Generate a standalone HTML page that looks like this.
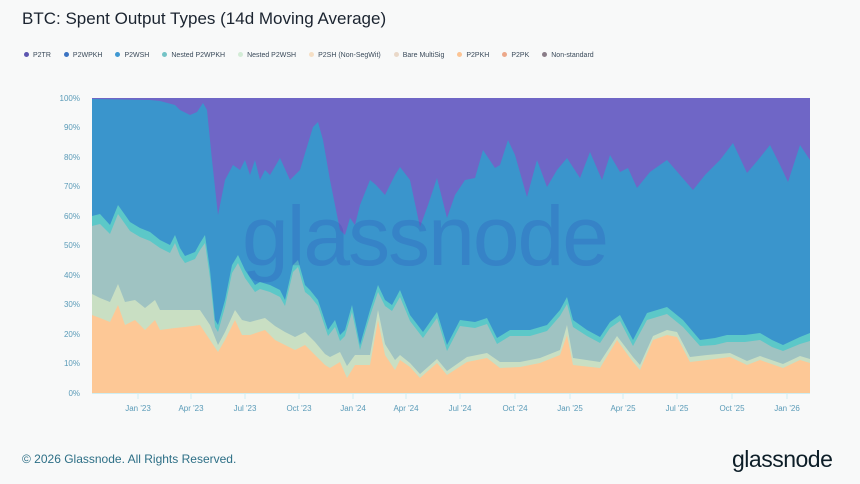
<!DOCTYPE html>
<html><head><meta charset="utf-8"><style>
body{margin:0;width:860px;height:484px;background:#f8f9f9;font-family:"Liberation Sans",sans-serif;overflow:hidden;position:relative}
.t{position:absolute;left:22px;top:9px;font-size:17px;color:#1b2430}
.lg{position:absolute;top:52px;left:24px;font-size:7px;color:#3a4a5a;white-space:nowrap}
.lg span{margin-right:13px}
.lg i{display:inline-block;width:5px;height:5px;border-radius:50%;margin-right:4px;vertical-align:0}
.ft{position:absolute;left:22px;top:452px;font-size:12px;color:#2d6f86}
.logo{position:absolute;left:732px;top:446px;font-size:23px;color:#0d1e28;letter-spacing:-0.5px}
</style></head><body>
<div class="t">BTC: Spent Output Types (14d Moving Average)</div>
<div class="lg">
<span><i style="background:#5d56b0"></i>P2TR</span><span><i style="background:#3b73c2"></i>P2WPKH</span><span><i style="background:#3f98d2"></i>P2WSH</span><span><i style="background:#74c3c6"></i>Nested P2WPKH</span><span><i style="background:#d3ecd6"></i>Nested P2WSH</span><span><i style="background:#f5dfc5"></i>P2SH (Non-SegWit)</span><span><i style="background:#e9d8c8"></i>Bare MultiSig</span><span><i style="background:#fcc494"></i>P2PKH</span><span><i style="background:#eca88a"></i>P2PK</span><span><i style="background:#8a7d88"></i>Non-standard</span>
</div>
<svg width="860" height="484" style="position:absolute;left:0;top:0">
<g font-size="8" fill="#5a9bb8" text-anchor="end" font-family="Liberation Sans">
<text x="80" y="101">100%</text><text x="80" y="130">90%</text><text x="80" y="160">80%</text><text x="80" y="189">70%</text><text x="80" y="219">60%</text><text x="80" y="248">50%</text><text x="80" y="278">40%</text><text x="80" y="307">30%</text><text x="80" y="337">20%</text><text x="80" y="366">10%</text><text x="80" y="396">0%</text>
</g>
<rect x="92" y="98" width="718" height="295" fill="#6f66c6"/>
<polygon fill="#3a95cc" points="92,99 150,100 160,101 175,105 180,110 190,115 197,112 203,103 207,110 212,160 218,215 225,180 233,165 240,170 245,160 250,175 255,160 260,180 265,170 270,175 280,158 290,180 300,170 306,150 313,127 318,122 323,140 330,180 340,230 345,235 350,218 355,225 360,205 370,180 376,185 385,195 395,175 400,167 410,180 420,227 428,205 437,178 447,218 455,195 465,180 475,178 483,150 495,168 500,165 508,140 515,155 527,197 537,160 547,187 557,170 567,158 580,178 590,152 602,180 610,155 620,172 628,168 637,188 650,172 667,160 680,175 693,190 705,175 720,160 733,143 747,173 758,160 770,145 780,165 788,182 800,145 810,160 810,393 92,393"/>
<polygon fill="#5cc8c8" points="92,216 100,214 110,225 118,205 130,222 140,228 150,232 160,240 170,245 175,235 180,248 185,256 195,252 200,243 205,235 210,270 215,320 218,325 225,300 232,265 238,255 245,270 255,285 260,282 270,285 280,290 285,300 293,265 298,260 305,285 310,290 318,300 328,330 335,320 340,335 345,330 352,305 360,345 370,310 378,285 385,300 392,305 400,290 410,315 423,332 437,312 447,345 460,320 475,322 487,318 497,338 510,330 530,330 547,325 560,310 567,297 573,320 587,330 600,337 610,322 620,315 633,340 647,313 667,307 683,320 700,340 715,338 727,335 745,335 760,333 772,340 783,345 800,337 810,333 810,393 92,393"/>
<polygon fill="#9fc3c2" points="92,226 100,224 110,234 118,214 130,231 140,237 150,241 160,248 170,253 175,243 180,256 185,263 195,259 200,250 205,243 210,278 215,327 218,332 225,307 232,273 238,263 245,278 255,292 260,289 270,292 280,297 285,306 293,272 298,267 305,292 310,296 318,306 328,336 335,327 340,341 345,336 352,312 360,350 370,316 378,292 385,306 392,311 400,297 410,321 423,338 437,318 447,351 460,326 475,328 487,324 497,344 510,336 530,336 547,331 560,316 567,304 573,327 587,336 600,343 610,328 620,321 633,346 647,320 667,314 683,327 700,346 715,345 727,342 745,342 760,340 772,347 783,351 800,344 810,341 810,393 92,393"/>
<polygon fill="#c9dfc3" points="92,294 100,298 110,302 118,284 125,302 135,300 145,308 155,300 160,310 175,310 185,310 200,310 210,325 218,345 225,332 235,310 242,320 250,322 265,318 275,326 285,332 295,337 305,332 315,342 325,354 330,357 340,352 347,366 355,355 370,355 378,310 385,344 395,360 400,355 410,363 420,374 437,359 447,371 467,357 487,353 500,362 520,362 540,358 560,350 567,325 573,358 600,362 617,336 633,357 640,365 653,336 667,330 677,332 690,357 707,355 730,353 747,361 760,356 783,364 800,356 810,359 810,393 92,393"/>
<polygon fill="#fdc896" points="92,315 100,318 110,322 118,305 125,325 135,320 145,330 155,320 160,330 175,328 185,327 200,325 210,340 218,352 225,340 235,320 242,335 250,335 265,330 275,340 285,345 295,350 305,345 315,355 325,365 330,368 340,362 347,378 355,365 370,365 378,320 385,355 395,370 400,360 410,367 420,378 437,363 447,375 467,362 487,358 500,368 520,367 540,363 560,355 567,335 573,365 600,368 617,340 633,362 640,370 653,340 667,335 677,337 690,362 707,360 730,357 747,365 760,360 783,368 800,360 810,363 810,393 92,393"/>
<text x="242" y="265" font-size="84" fill="#2a4fb8" fill-opacity="0.25" font-family="Liberation Sans" letter-spacing="-2" textLength="365">glassnode</text>
<line x1="92" y1="393.5" x2="810" y2="393.5" stroke="#cfeef2" stroke-width="1"/>
<g stroke="#cfeef2">
<line x1="138" y1="393" x2="138" y2="399"/><line x1="191" y1="393" x2="191" y2="399"/><line x1="245" y1="393" x2="245" y2="399"/><line x1="299" y1="393" x2="299" y2="399"/><line x1="353" y1="393" x2="353" y2="399"/><line x1="406" y1="393" x2="406" y2="399"/><line x1="460" y1="393" x2="460" y2="399"/><line x1="515" y1="393" x2="515" y2="399"/><line x1="570" y1="393" x2="570" y2="399"/><line x1="623" y1="393" x2="623" y2="399"/><line x1="677" y1="393" x2="677" y2="399"/><line x1="732" y1="393" x2="732" y2="399"/><line x1="787" y1="393" x2="787" y2="399"/>
</g>
<g font-size="8" fill="#5a9bb8" text-anchor="middle" font-family="Liberation Sans">
<text x="138" y="411">Jan '23</text><text x="191" y="411">Apr '23</text><text x="245" y="411">Jul '23</text><text x="299" y="411">Oct '23</text><text x="353" y="411">Jan '24</text><text x="406" y="411">Apr '24</text><text x="460" y="411">Jul '24</text><text x="515" y="411">Oct '24</text><text x="570" y="411">Jan '25</text><text x="623" y="411">Apr '25</text><text x="677" y="411">Jul '25</text><text x="732" y="411">Oct '25</text><text x="787" y="411">Jan '26</text>
</g>
</svg>
<div class="ft">© 2026 Glassnode. All Rights Reserved.</div>
<div class="logo">glassnode</div>
</body></html>
